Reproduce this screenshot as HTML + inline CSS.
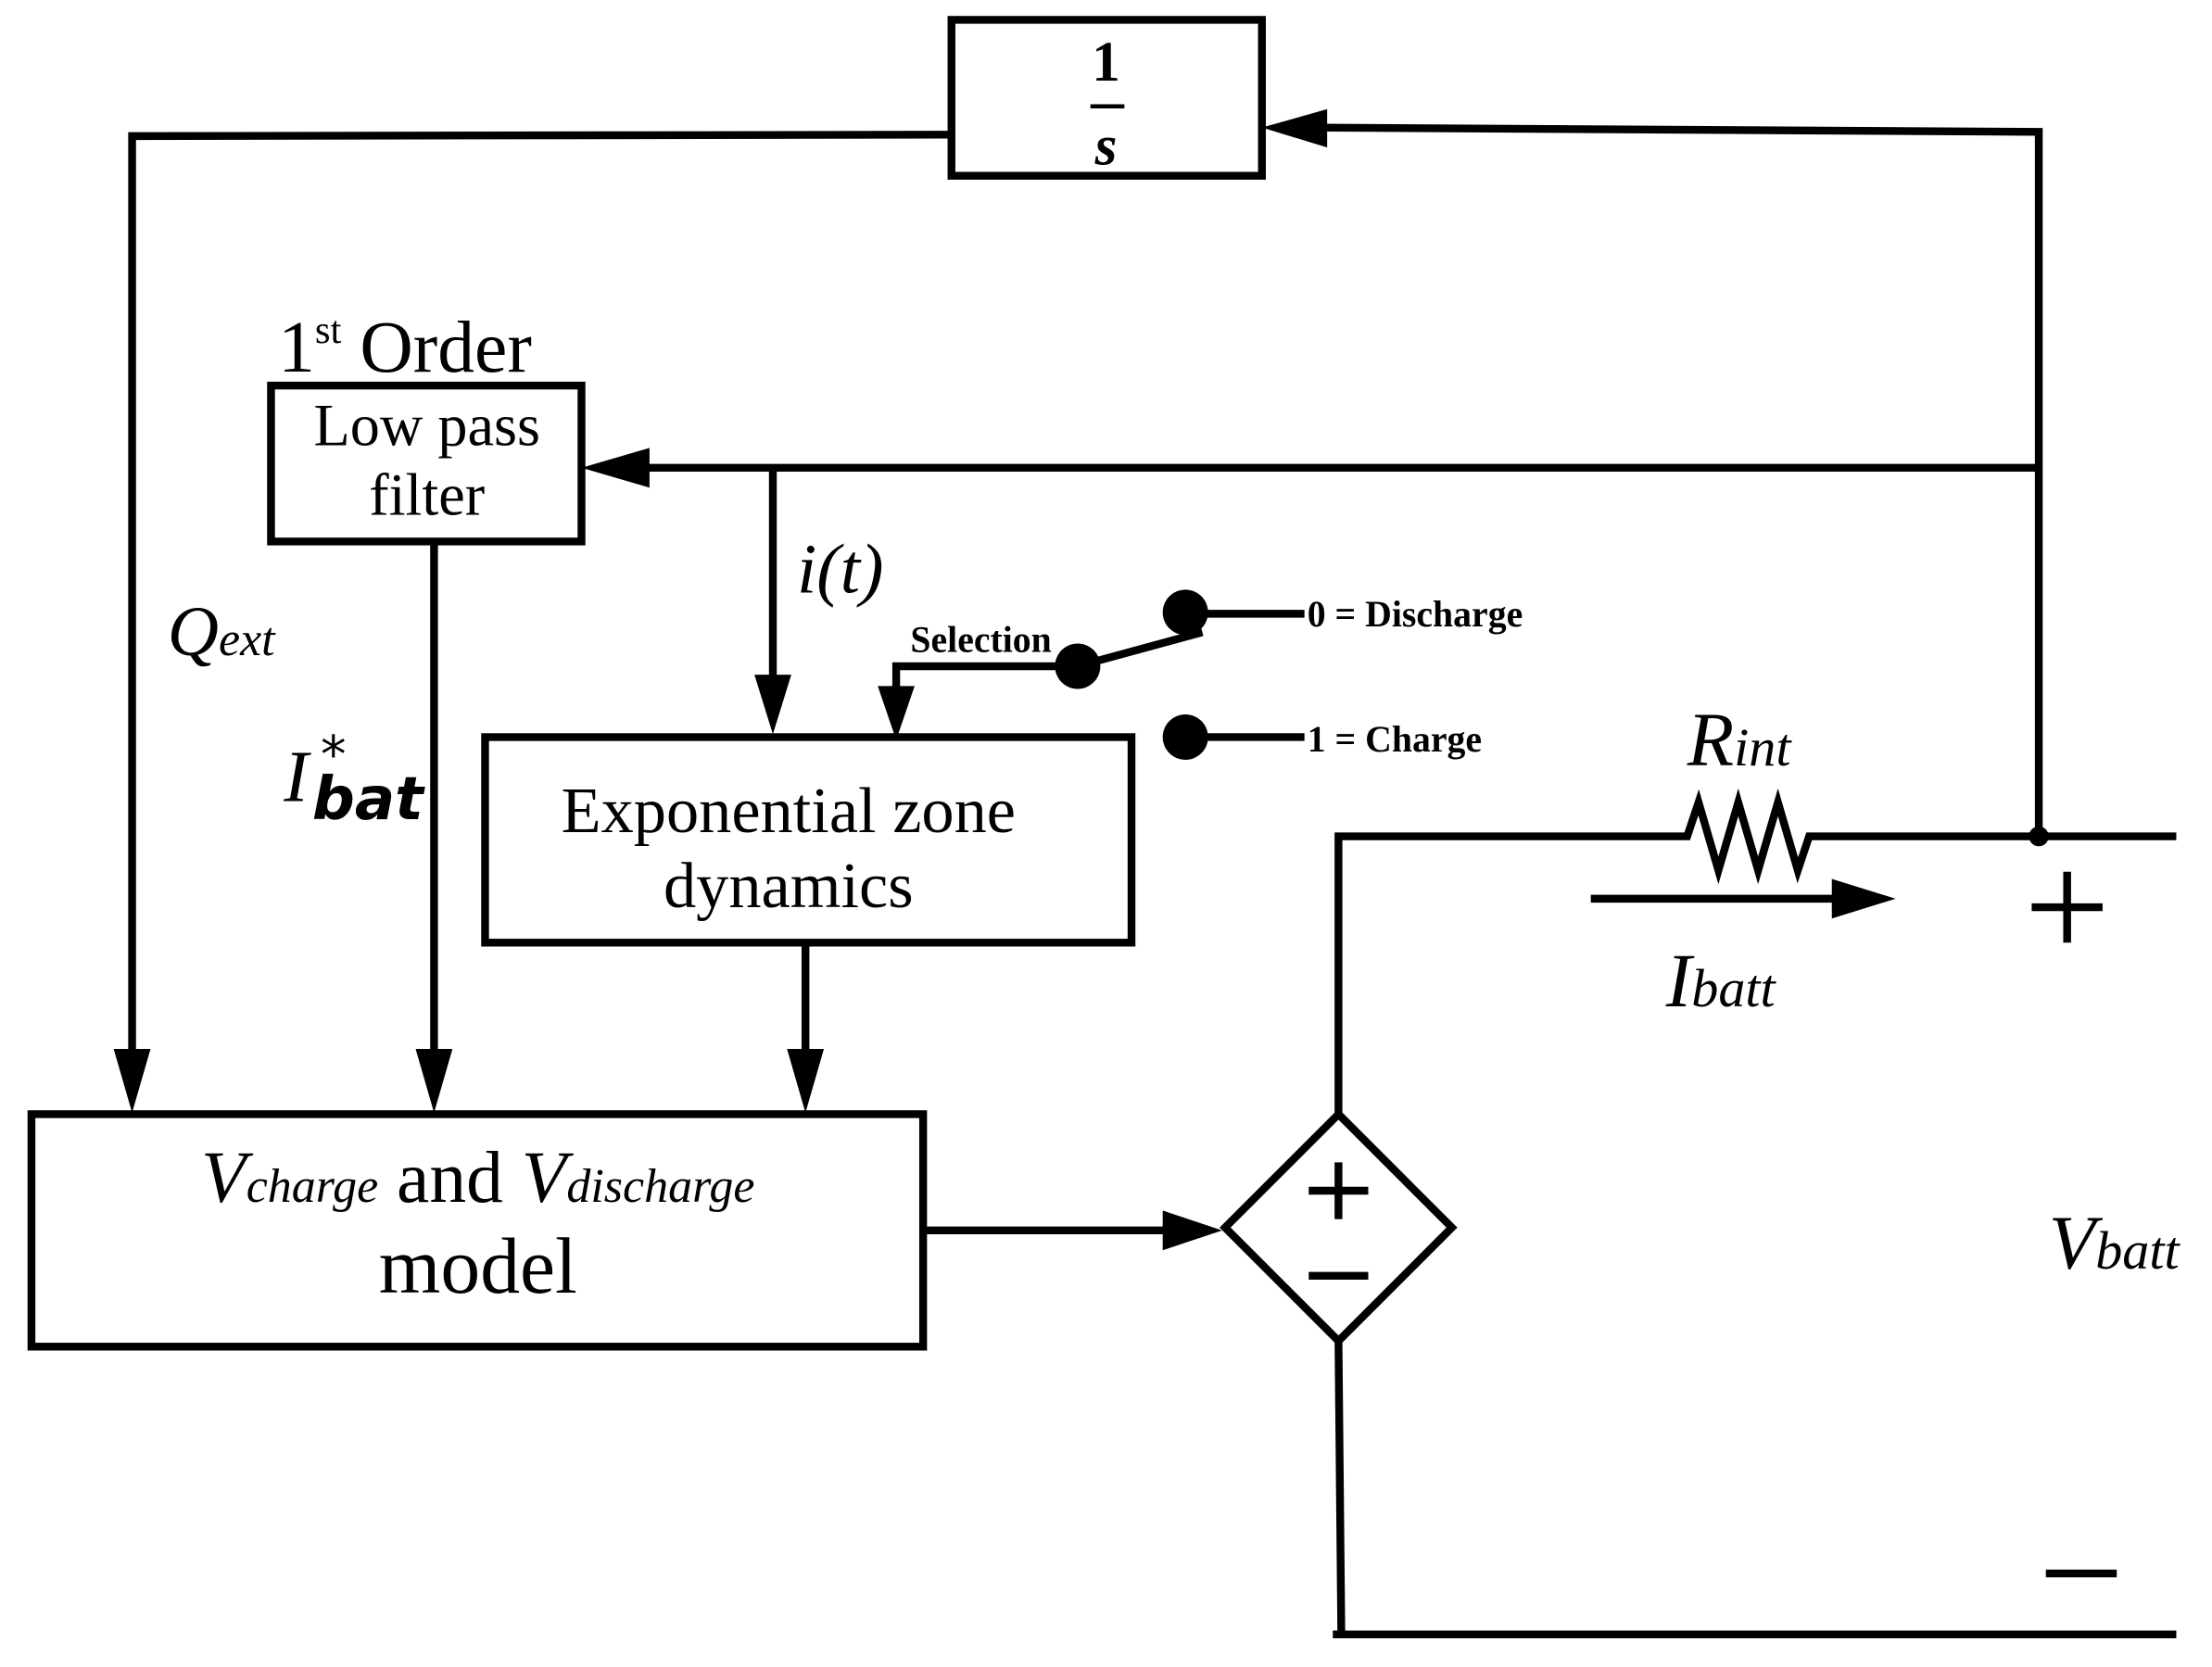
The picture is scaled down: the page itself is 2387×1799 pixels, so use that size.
<!DOCTYPE html>
<html><head><style>html,body{margin:0;padding:0;background:#fff}svg{display:block}</style></head>
<body>
<svg width="2387" height="1799" viewBox="0 0 1560 1176" xmlns="http://www.w3.org/2000/svg" font-family="Liberation Serif, serif">
<g stroke="#000" stroke-width="5.5" fill="none">
<rect x="671" y="14" width="219" height="110"/>
<rect x="191" y="272" width="219" height="110"/>
<rect x="342" y="520" width="456" height="145"/>
<rect x="22" y="786" width="629" height="164"/>
<polyline points="671,95 93,96 93,750"/>
<polyline points="1438,590 1438,93 930,90"/>
<polyline points="1438,330 455,330"/>
<line x1="545" y1="330" x2="545" y2="482"/>
<line x1="306" y1="382" x2="306" y2="750"/>
<line x1="568" y1="665" x2="568" y2="750"/>
<line x1="651" y1="868" x2="825" y2="868"/>
<polygon points="944,786 1024,866 944,946 864,866"/>
<polyline points="944,786 944,590 1190,590 1198,566 1212,614 1226,566 1240,614 1254,566 1268,614 1276,590 1535,590"/>
<line x1="1122" y1="634" x2="1298" y2="634"/>
<polyline points="944,946 946,1153"/>
<line x1="940" y1="1153" x2="1535" y2="1153"/>
<line x1="769" y1="75" x2="793" y2="75" stroke-width="3"/>
<line x1="836" y1="433" x2="920" y2="433"/>
<line x1="836" y1="520" x2="920" y2="520"/>
<line x1="760" y1="470" x2="848" y2="446"/>
<polyline points="760,470 632,470 632,490"/>
<line x1="923" y1="840" x2="965" y2="840"/><line x1="944" y1="820" x2="944" y2="860"/>
<line x1="923" y1="900" x2="965" y2="900"/>
<line x1="1433" y1="640" x2="1483" y2="640"/><line x1="1458" y1="615" x2="1458" y2="665"/>
<line x1="1443" y1="1110" x2="1493" y2="1110"/>
</g>
<g fill="#000">
<polygon points="80,740 106,740 93,785"/>
<polygon points="293,740 319,740 306,785"/>
<polygon points="555,740 581,740 568,785"/>
<polygon points="532,476 558,476 545,518"/>
<polygon points="619,484 645,484 632,522"/>
<polygon points="410,330 458,316 458,344"/>
<polygon points="890,90 936,77 936,104"/>
<polygon points="862,868 820,854 820,882"/>
<polygon points="1337,634 1292,620 1292,648"/>
<circle cx="836" cy="432" r="16"/><circle cx="836" cy="520" r="16"/><circle cx="760" cy="470" r="16"/>
<circle cx="1438" cy="590" r="7"/>
</g>
<g fill="#000">
<text x="780" y="57" font-size="40" font-weight="bold" text-anchor="middle">1</text>
<text x="780" y="116" font-size="40" font-weight="bold" font-style="italic" text-anchor="middle">s</text>
<text x="196" y="262" font-size="52">1<tspan font-size="28" dy="-20">st</tspan><tspan dy="20"> Order</tspan></text>
<text x="301" y="314" font-size="42" text-anchor="middle">Low pass</text>
<text x="301" y="363" font-size="42" text-anchor="middle">filter</text>
<text x="118" y="462" font-size="50" font-style="italic">Q<tspan font-size="34">ext</tspan></text>
<text x="200" y="565" font-size="52" font-style="italic">I</text>
<text x="220" y="578" font-size="42" font-style="italic" font-weight="bold" font-family="DejaVu Sans, sans-serif">bat</text>
<text x="226" y="545" font-size="36" font-family="DejaVu Sans, sans-serif">*</text>
<text x="562" y="418" font-size="50" font-style="italic">i(t)</text>
<text x="642" y="460" font-size="26" font-weight="bold">Selection</text>
<text x="922" y="442" font-size="26" font-weight="bold">0 = Discharge</text>
<text x="922" y="530" font-size="26" font-weight="bold">1 = Charge</text>
<text x="556" y="587" font-size="46" text-anchor="middle">Exponential zone</text>
<text x="556" y="640" font-size="46" text-anchor="middle">dynamics</text>
<text x="337" y="848" font-size="52" text-anchor="middle"><tspan font-style="italic">V<tspan font-size="34">charge</tspan></tspan> and <tspan font-style="italic">V<tspan font-size="34">discharge</tspan></tspan></text>
<text x="337" y="912" font-size="56" text-anchor="middle">model</text>
<text x="1190" y="540" font-size="54" font-style="italic">R<tspan font-size="38">int</tspan></text>
<text x="1175" y="710" font-size="54" font-style="italic">I<tspan font-size="38">batt</tspan></text>
<text x="1445" y="895" font-size="54" font-style="italic">V<tspan font-size="38">batt</tspan></text>
</g>
</svg>
</body></html>
